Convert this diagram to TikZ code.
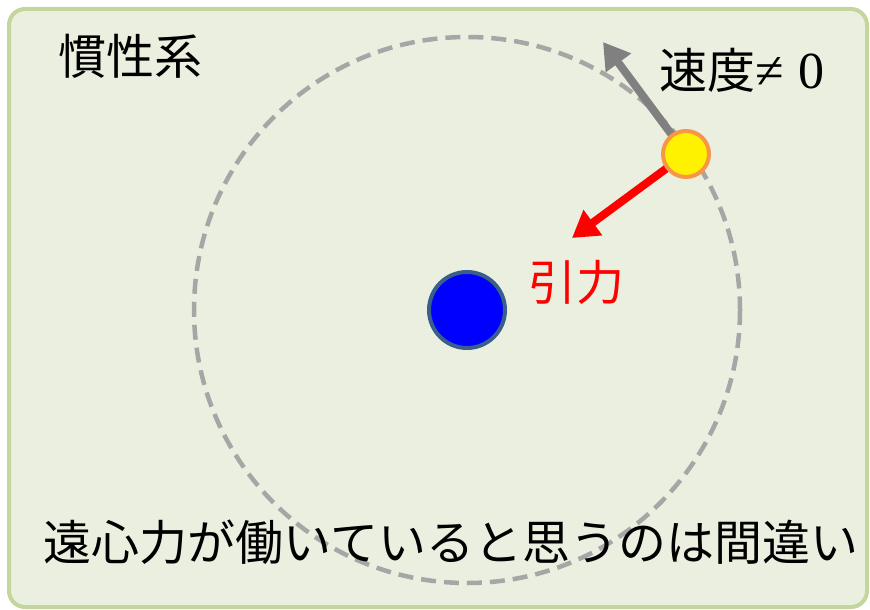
\documentclass[tikz,border=0pt]{standalone}
\usepackage{fontspec}
\setmainfont{Liberation Serif}
\newfontfamily\cjk{Noto Sans CJK JP}
\usetikzlibrary{arrows.meta}
\definecolor{bgfill}{HTML}{EBEFDF}
\definecolor{bgline}{HTML}{C3D69B}
\definecolor{orbit}{HTML}{A6A6A6}
\definecolor{velgray}{HTML}{808080}
\definecolor{bodyline}{HTML}{3A5F8A}
\definecolor{planetline}{HTML}{F79646}
\tikzset{
  lbl/.style={font=\cjk\fontsize{48}{56}\selectfont, inner sep=0pt},
  vecarrow/.style={line width=8pt, -{Triangle[length=26pt,width=30pt]}},
}
\begin{document}
\begin{tikzpicture}[x=1pt,y=-1pt]
\useasboundingbox (0,0) rectangle (870,610);
\draw[bgline, fill=bgfill, line width=4pt, rounded corners=16pt] (9,9) rectangle (867,607);
\coordinate (c) at (467,310);
\draw[orbit, line width=4.5pt, dash pattern=on 15pt off 8pt] (c) circle[radius=273];
\node[circle, fill=blue, draw=bodyline, line width=4pt, minimum size=76pt, inner sep=0pt] (sun) at (c) {};
\coordinate (pc) at (686,154);
\coordinate (vtip) at (603,42);
\coordinate (ftip) at (572,238);
\draw[vecarrow, velgray] (pc) -- (vtip);
\draw[vecarrow, red] (pc) -- (ftip);
\node[circle, fill=yellow, draw=planetline, line width=4pt, minimum size=46pt, inner sep=0pt] (planet) at (pc) {};
\node[lbl] (frame) at (130,56) {慣性系};
\node[lbl, anchor=west] (vel) at (659,70) {速度{\rmfamily\fontsize{52}{60}\selectfont ≠\hspace{15pt}0}};
\node[lbl, text=red] (force) at (576,282) {引力};
\node[lbl] (msg) at (451,542) {遠心力が働いていると思うのは間違い};
\end{tikzpicture}
\end{document}
